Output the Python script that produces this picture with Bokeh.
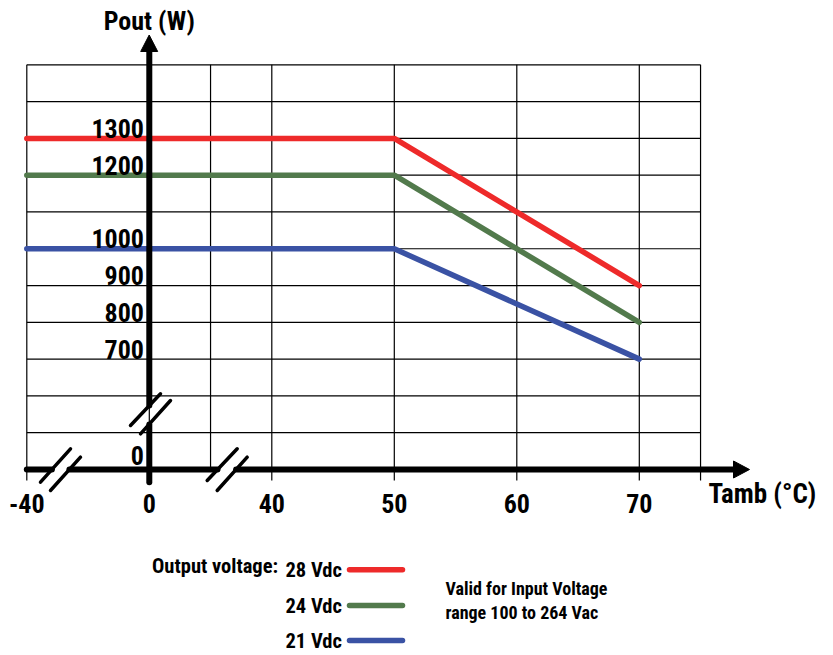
from bokeh.plotting import figure
from bokeh.models import Range1d
from bokeh.core.properties import value
from bokeh.embed import file_html
from bokeh.resources import INLINE

# ---------------- data ----------------
temps = [-40, 50, 70]
p28 = [1300, 1300, 900]
p24 = [1200, 1200, 800]
p21 = [1000, 1000, 700]
series_names = ["28 Vdc", "24 Vdc", "21 Vdc"]
series_colors = ["#EE2A2A", "#527A4C", "#3A52A4"]
x_ticks = [-40, 0, 40, 50, 60, 70]
x_tick_labels = ["-40", "0", "40", "50", "60", "70"]
y_ticks = [0, 700, 800, 900, 1000, 1200, 1300]
y_tick_labels = ["0", "700", "800", "900", "1000", "1200", "1300"]
x_title = "Tamb (°C)"
y_title = "Pout (W)"
legend_title = "Output voltage:"
note_lines = ["Valid for Input Voltage", "range 100 to 264 Vac"]

FONT = value("Roboto Condensed, DejaVu Sans Condensed, Liberation Sans, sans-serif")


# broken-axis scales (axis is compressed between -40..0 and 0..40, and 0..700 W)
def xpos(t):
    if t >= 40:
        return t
    if t >= 0:
        return 30 + t / 4
    return 20 + (t + 40) / 4


def ypos(w):
    if w >= 700:
        return w
    return 400 + w * 300 / 700


# helpers to place decorations in pixel terms
SX = 12.25
SY = 0.3679


def X2d(X):
    return 20 + (X - 26.3) / SX


def Y2d(Y):
    return 400 + (469 - Y) / SY


W, H = 833, 655
p = figure(width=W, height=H, output_backend="svg", toolbar_location=None,
           x_range=Range1d(X2d(0), X2d(W)), y_range=Range1d(Y2d(H), Y2d(0)),
           min_border=0, outline_line_color=None)
p.xaxis.visible = False
p.yaxis.visible = False
p.xgrid.visible = False
p.ygrid.visible = False
p.background_fill_color = "white"

x_left, x_right = xpos(-40), 75
y_bottom, y_top = ypos(0), 1500
tick_bottom = Y2d(480)

# horizontal grid
grid_y = list(range(500, 1501, 100))
p.multi_line([[x_left, x_right] for _ in grid_y], [[g, g] for g in grid_y],
             line_color="black", line_width=1.2)
# vertical grid
grid_x = [x_left, xpos(0), 40, 50, 60, 70, x_right]
p.multi_line([[g, g] for g in grid_x], [[tick_bottom, y_top] for _ in grid_x],
             line_color="black", line_width=1.2)
p.line([35, 35], [y_bottom, y_top], line_color="black", line_width=1.2)

# data lines
for ys, c in zip([p28, p24, p21], series_colors):
    p.line([xpos(t) for t in temps], ys, line_color=c, line_width=5.5,
           line_cap="round", line_join="round")

# axes
AX_W = 6
ax0 = xpos(0)
xsegs = [(x_left, X2d(51.4)), (X2d(68.9), X2d(217)), (X2d(235.6), X2d(734))]
p.multi_line([[a, b] for a, b in xsegs], [[y_bottom, y_bottom] for _ in xsegs],
             line_color="black", line_width=AX_W, line_cap="round")
p.patch([X2d(733), X2d(733), X2d(749)], [Y2d(460.5), Y2d(477.5), Y2d(469)], color="black")
ysegs = [(Y2d(481.7), Y2d(424)), (Y2d(405), Y2d(51))]
p.multi_line([[ax0, ax0] for _ in ysegs], [[a, b] for a, b in ysegs],
             line_color="black", line_width=AX_W, line_cap="round")
p.patch([X2d(140.2), X2d(157.2), X2d(148.7)], [Y2d(51), Y2d(51), Y2d(34.5)], color="black")

# break marks
slashes = [((40, 481.7), (70, 448.3)), ((50, 490), (80, 456.7)),
           ((206.7, 480), (236.7, 448.3)), ((216.7, 490), (246.7, 456.7)),
           ((130, 425), (160, 393.3)), ((140, 433.3), (170, 400))]
p.multi_line([[X2d(a[0]), X2d(b[0])] for a, b in slashes],
             [[Y2d(a[1]), Y2d(b[1])] for a, b in slashes],
             line_color="black", line_width=3.5, line_cap="round")

TXT = dict(text_font=FONT, text_font_style="bold", text_color="black", text_baseline="middle")

# tick labels (centred vertically on cap height)
p.text([xpos(t) for t in x_ticks], [Y2d(503.3)] * len(x_ticks), text=x_tick_labels,
       text_font_size="26px", text_align="center", **TXT)
y_lab_y = [ypos(v) + (14.0 if v == 0 else 10.0) / SY for v in y_ticks]
p.text([X2d(143.5)] * len(y_ticks), y_lab_y, text=y_tick_labels,
       text_font_size="26px", text_align="right", **TXT)

# axis titles
p.text([X2d(708)], [Y2d(493)], text=[x_title], text_font_size="27px", text_align="left", **TXT)
p.text([ax0], [Y2d(20.5)], text=[y_title], text_font_size="26px", text_align="center", **TXT)

# legend
p.text([X2d(151.5)], [Y2d(565.3)], text=[legend_title], text_font_size="20.5px",
       text_align="left", **TXT)
leg_rows = [569.3, 605, 640]
for name, c, ry in zip(series_names, series_colors, leg_rows):
    p.text([X2d(285)], [Y2d(ry + 0.5)], text=[name], text_font_size="20.5px",
           text_align="left", **TXT)
    p.line([X2d(349), X2d(402)], [Y2d(ry), Y2d(ry)], line_color=c, line_width=5.5,
           line_cap="round")

p.text([X2d(445)] * 2, [Y2d(587.5), Y2d(611.5)], text=note_lines, text_font_size="18px",
       text_align="left", **TXT)

open("out.html", "w").write(file_html(p, INLINE))
